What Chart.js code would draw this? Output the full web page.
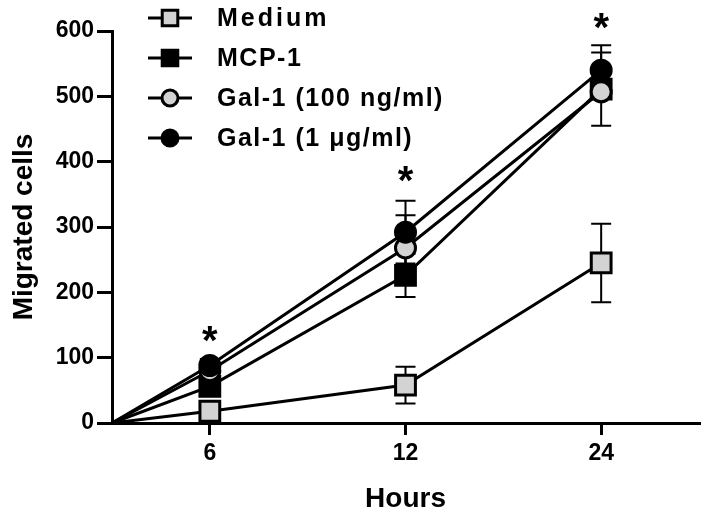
<!DOCTYPE html>
<html>
<head>
<meta charset="utf-8">
<script src="https://cdn.jsdelivr.net/npm/chart.js@4"></script>
<style>
  html, body { margin: 0; padding: 0; background: #fff; }
  #wrap { width: 716px; height: 518px; }
</style>
</head>
<body>
<div id="wrap"><canvas id="chart" width="716" height="518"></canvas></div>
<script>
var hours = [0, 6, 12, 24];
var xTickLabels = ["6", "12", "24"];
var yTicks = [0, 100, 200, 300, 400, 500, 600];

var seriesNames = ["Medium", "MCP-1", "Gal-1 (100 ng/ml)", "Gal-1 (1 \u03bcg/ml)"];
var medium = [0, 18, 58, 245];
var mediumErr = [0, 4, 28, 60];
var mcp1 = [0, 56, 226, 511];
var mcp1Err = [0, 8, 33, 56];
var gal100 = [0, 80, 268, 507];
var gal100Err = [0, 8, 50, 10];
var gal1 = [0, 88, 292, 540];
var gal1Err = [0, 10, 48, 38];

// significance stars
var starHours = [6, 12, 24];
var starValues = [143, 388, 621];

// the time axis is ordinal with a gap between the groups
var hourSlot = { 0: 0, 6: 1, 12: 3, 24: 5 };

var FONT = "'Liberation Sans', Arial, sans-serif";
var GREY = "#d3d3d3";

function makeSet(idx, values, errs, style, fill) {
    var r = style === "rect" ? 14 : 10;
    return {
        label: seriesNames[idx],
        data: hours.map(function (h, i) { return { x: hourSlot[h], y: values[i] }; }),
        errors: errs,
        borderColor: "#000",
        borderWidth: 3,
        pointStyle: style,
        pointRadius: hours.map(function (h) { return h === 0 ? 0 : r; }),
        pointHoverRadius: hours.map(function (h) { return h === 0 ? 0 : r; }),
        pointBackgroundColor: fill,
        pointBorderColor: "#000",
        pointBorderWidth: 3,
        legendRadius: style === "rect" ? 11 : 8,
        order: 3 - idx,
        clip: false,
        tension: 0
    };
}

var errorBars = {
    id: "errorBars",
    beforeDatasetsDraw: function (chart) {
        var ctx = chart.ctx;
        var ys = chart.scales.y;
        ctx.save();
        ctx.strokeStyle = "#000";
        ctx.lineWidth = 2;
        chart.data.datasets.forEach(function (ds, di) {
            var meta = chart.getDatasetMeta(di);
            ds.data.forEach(function (p, i) {
                var e = ds.errors[i];
                if (!e) return;
                var x = meta.data[i].x;
                var top = ys.getPixelForValue(p.y + e);
                var bot = ys.getPixelForValue(p.y - e);
                ctx.beginPath();
                ctx.moveTo(x, top); ctx.lineTo(x, bot);
                ctx.moveTo(x - 10, top); ctx.lineTo(x + 10, top);
                ctx.moveTo(x - 10, bot); ctx.lineTo(x + 10, bot);
                ctx.stroke();
            });
        });
        ctx.restore();
    }
};

var stars = {
    id: "stars",
    afterDatasetsDraw: function (chart) {
        var ctx = chart.ctx;
        ctx.save();
        ctx.fillStyle = "#000";
        ctx.font = "bold 40px " + FONT;
        ctx.textAlign = "center";
        ctx.textBaseline = "alphabetic";
        starHours.forEach(function (h, i) {
            var x = chart.scales.x.getPixelForValue(hourSlot[h]);
            var y = chart.scales.y.getPixelForValue(starValues[i]);
            ctx.fillText("*", x, y + 24);
        });
        ctx.restore();
    }
};

var legendBox = {
    id: "legendBox",
    afterDraw: function (chart) {
        var ctx = chart.ctx;
        ctx.save();
        chart.data.datasets.forEach(function (ds, i) {
            var y = 18 + 40 * i;
            ctx.strokeStyle = "#000";
            ctx.lineWidth = 3;
            ctx.beginPath();
            ctx.moveTo(148, y); ctx.lineTo(192, y);
            ctx.stroke();
            ctx.fillStyle = ds.pointBackgroundColor;
            Chart.helpers.drawPoint(ctx, {
                pointStyle: ds.pointStyle,
                radius: ds.legendRadius,
                borderWidth: 3,
                rotation: 0
            }, 170, y);
            ctx.fillStyle = "#000";
            ctx.font = "bold 25px " + FONT;
            ctx.letterSpacing = i === 0 ? "3px" : "1.5px";
            ctx.textAlign = "left";
            ctx.textBaseline = "middle";
            ctx.fillText(ds.label, 217, y + 1);
        });
        ctx.restore();
    }
};

new Chart(document.getElementById("chart").getContext("2d"), {
    type: "line",
    data: {
        datasets: [
            makeSet(0, medium, mediumErr, "rect", GREY),
            makeSet(1, mcp1, mcp1Err, "rect", "#000"),
            makeSet(2, gal100, gal100Err, "circle", GREY),
            makeSet(3, gal1, gal1Err, "circle", "#000")
        ]
    },
    options: {
        responsive: false,
        animation: false,
        devicePixelRatio: 1,
        layout: { padding: { top: 31, right: 8, left: 0, bottom: 0 } },
        plugins: {
            legend: { display: false },
            tooltip: { enabled: false }
        },
        scales: {
            x: {
                type: "linear",
                min: 0,
                max: 6,
                afterBuildTicks: function (s) {
                    s.ticks = hours.slice(1).map(function (h) { return { value: hourSlot[h] }; });
                },
                afterFit: function (s) { s.height = 95; },
                ticks: {
                    color: "#000",
                    padding: 5,
                    font: { family: FONT, size: 23, weight: "bold" },
                    callback: function (v, i) { return xTickLabels[i]; }
                },
                grid: { drawOnChartArea: false, drawTicks: true, tickLength: 12, lineWidth: 3, color: "#000" },
                border: { display: true, width: 3, color: "#000" },
                title: {
                    display: true,
                    text: "Hours",
                    color: "#000",
                    font: { family: FONT, size: 28, weight: "bold" },
                    padding: { top: 8, bottom: 2 }
                }
            },
            y: {
                min: 0,
                max: 600,
                afterBuildTicks: function (s) {
                    s.ticks = yTicks.map(function (v) { return { value: v }; });
                },
                afterFit: function (s) { s.width = 112; },
                ticks: {
                    color: "#000",
                    padding: 3,
                    font: { family: FONT, size: 23, weight: "bold" }
                },
                grid: { drawOnChartArea: false, drawTicks: true, tickLength: 15, lineWidth: 3, color: "#000" },
                border: { display: true, width: 3, color: "#000" },
                title: {
                    display: true,
                    text: "Migrated cells",
                    color: "#000",
                    font: { family: FONT, size: 28, weight: "bold" },
                    padding: { top: 7, bottom: 4 }
                }
            }
        }
    },
    plugins: [errorBars, stars, legendBox]
});
</script>
</body>
</html>
